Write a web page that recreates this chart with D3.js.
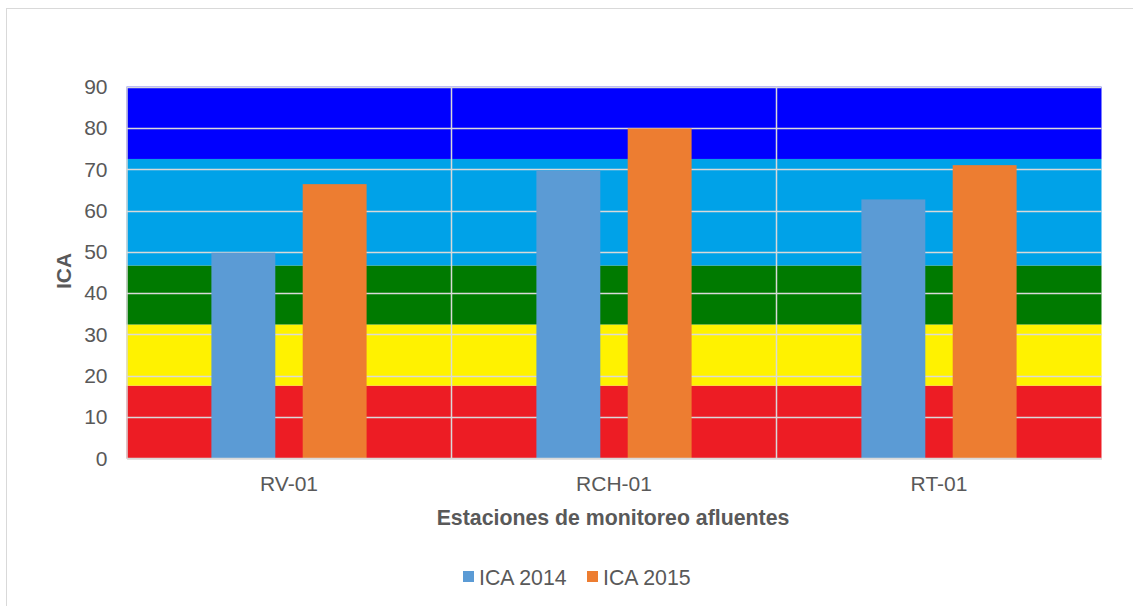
<!DOCTYPE html>
<html><head><meta charset="utf-8">
<script src="https://cdn.jsdelivr.net/npm/d3@7"></script>
<style>body{margin:0;background:#fff;}svg{display:block;font-family:"Liberation Sans",Arial,sans-serif;}</style>
</head><body>
<script>
const categories = ["RV-01", "RCH-01", "RT-01"];
const seriesNames = ["ICA 2014", "ICA 2015"];
const ica2014 = [49.8, 69.7, 62.7];
const ica2015 = [66.4, 79.9, 71.0];
const seriesColors = ["#5b9bd5", "#ed7d31"];
const bandLimits = [0, 17.6, 32.4, 46.7, 72.5, 90];
const bandColors = ["#ed1c24", "#fff200", "#007a00", "#00a2e8", "#0000ff"];
const yTicks = [0, 10, 20, 30, 40, 50, 60, 70, 80, 90];

const W = 1133, H = 606;
const m = {left: 126.5, right: 1101.5, top: 86.7, bottom: 458.3};
const FS = 21;
const svg = d3.select("body").append("svg").attr("width", W).attr("height", H);

svg.append("rect").attr("x", 6.5).attr("y", 8.5).attr("width", 1300).attr("height", 800)
  .attr("fill", "#fff").attr("stroke", "#d9d9d9").attr("stroke-width", 1);

const x = d3.scaleBand().domain(categories).range([m.left, m.right]).paddingInner(0).paddingOuter(0);
const y = d3.scaleLinear().domain([0, 90]).range([m.bottom, m.top]);

// background bands
const bands = d3.range(bandColors.length).map(i => ({lo: bandLimits[i], hi: bandLimits[i+1], c: bandColors[i]}));
svg.append("g").selectAll("rect").data(bands).join("rect")
  .attr("x", m.left).attr("width", m.right - m.left)
  .attr("y", d => y(d.hi)).attr("height", d => y(d.lo) - y(d.hi))
  .attr("fill", d => d.c);

// gridlines
svg.append("g").selectAll("line").data(yTicks.slice(1)).join("line")
  .attr("x1", m.left).attr("x2", m.right)
  .attr("y1", d => Math.round(y(d)) + 0.5).attr("y2", d => Math.round(y(d)) + 0.5)
  .attr("stroke", "#d9d9d9").attr("stroke-width", 1.5);
svg.append("g").selectAll("line").data(categories.slice(1)).join("line")
  .attr("x1", d => x(d)).attr("x2", d => x(d))
  .attr("y1", m.top).attr("y2", m.bottom)
  .attr("stroke", "#d9d9d9").attr("stroke-width", 1.5);

// bars
const bw = x.bandwidth();
const xs = d3.scaleBand().domain(seriesNames).range([0, bw]).paddingInner(0.3).paddingOuter(0.93);
const rows = categories.map((c, i) => ({c, vals: [ica2014[i], ica2015[i]]}));
const g = svg.append("g");
rows.forEach(r => {
  r.vals.forEach((v, j) => {
    g.append("rect")
      .attr("x", x(r.c) + xs(seriesNames[j]))
      .attr("width", xs.bandwidth())
      .attr("y", y(v)).attr("height", y(0) - y(v))
      .attr("fill", seriesColors[j]);
  });
});

// axes
const yAxis = d3.axisLeft(y).tickValues(yTicks).tickSize(0).tickPadding(19);
const ya = svg.append("g").attr("transform", `translate(${m.left},0)`).call(yAxis);
ya.select(".domain").attr("stroke", "#d9d9d9").attr("stroke-width", 1.5);
ya.selectAll("text").attr("font-size", FS).attr("fill", "#595959").attr("font-family", "Liberation Sans, Arial, sans-serif");

const xAxis = d3.axisBottom(x).tickSize(0).tickPadding(18);
const xa = svg.append("g").attr("transform", `translate(0,${m.bottom})`).call(xAxis);
xa.select(".domain").attr("stroke", "#d9d9d9").attr("stroke-width", 2);
xa.selectAll("text").attr("font-size", FS).attr("fill", "#595959").attr("font-family", "Liberation Sans, Arial, sans-serif");

svg.append("text").attr("x", 613).attr("y", 525).attr("text-anchor", "middle")
  .attr("font-size", 21.3).attr("font-weight", "bold").attr("fill", "#595959")
  .text("Estaciones de monitoreo afluentes");
svg.append("text").attr("transform", "translate(71,271) rotate(-90)").attr("text-anchor", "middle")
  .attr("font-size", 21).attr("font-weight", "bold").attr("fill", "#595959").text("ICA");

// legend
const lx = [463, 587];
const lg = svg.append("g");
seriesNames.forEach((s, i) => {
  lg.append("rect").attr("x", lx[i]).attr("y", 571).attr("width", 11).attr("height", 11).attr("fill", seriesColors[i]);
  lg.append("text").attr("x", lx[i] + 16).attr("y", 585).attr("font-size", 21.3).attr("fill", "#595959").text(s);
});
</script>
</body></html>
